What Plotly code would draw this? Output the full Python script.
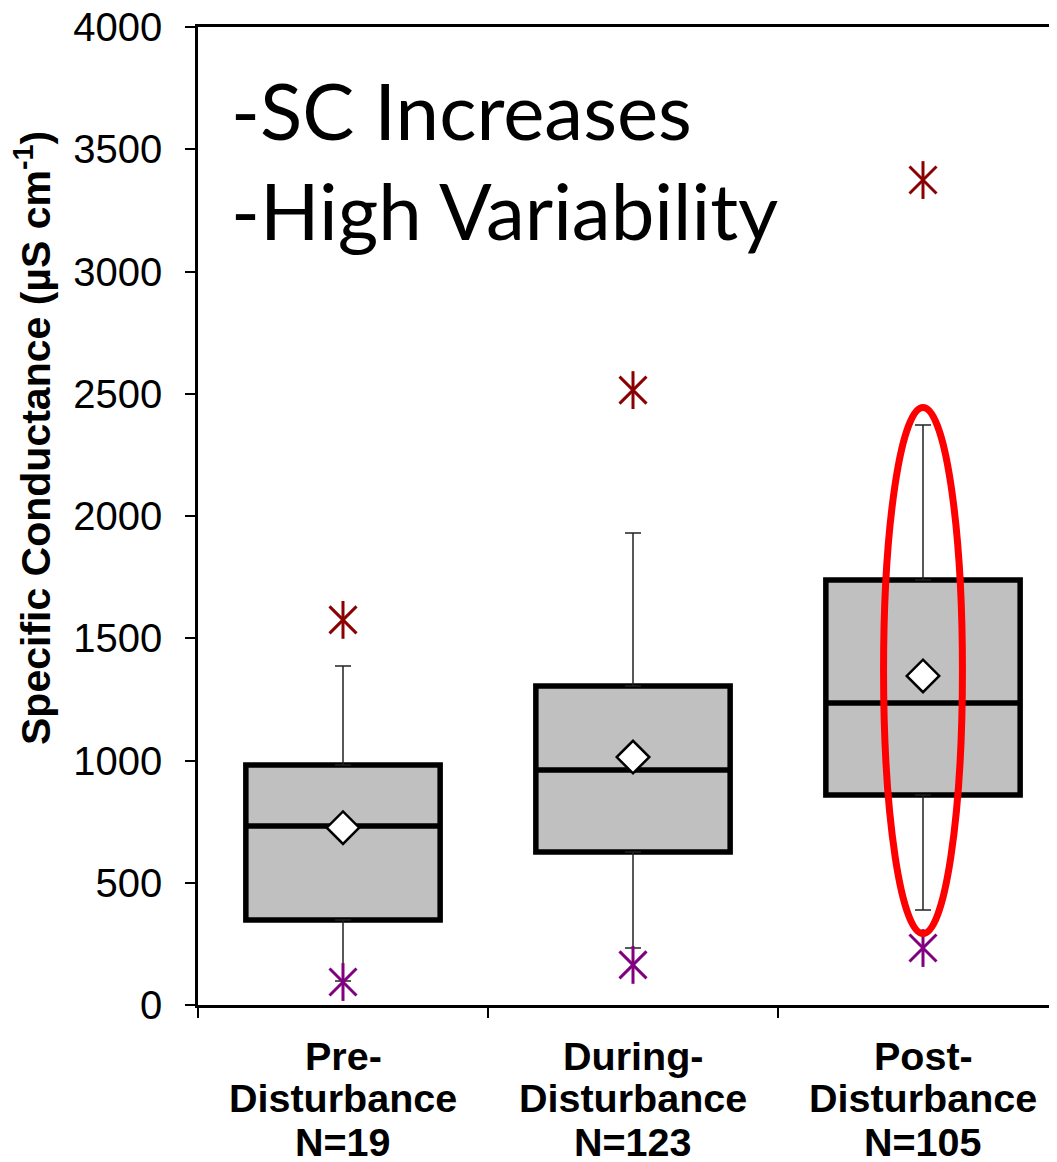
import plotly.graph_objects as go

categories = ["Pre-Disturbance", "During-Disturbance", "Post-Disturbance"]
label_line1 = ["Pre-", "During-", "Post-"]
label_line2 = ["Disturbance", "Disturbance", "Disturbance"]
label_line3 = ["N=19", "N=123", "N=105"]
q1 = [348, 626, 859]
median = [732, 961, 1235]
q3 = [982, 1305, 1738]
mean = [725, 1014, 1346]
upper_whisker = [1387, 1930, 2372]
lower_whisker = [98, 233, 389]
max_val = [1575, 2515, 3374]
min_val = [94, 164, 233]
y_ticks = [0, 500, 1000, 1500, 2000, 2500, 3000, 3500, 4000]
ellipse_x = [1.864, 2.136]
ellipse_y = [292, 2444]

FIG_W, FIG_H = 1049, 1154
L, R, T, B = 190, 1049, 19, 997
W, H = R - L, B - T


def px(xp):
    return (xp - L) / W


def py(yp):
    return (B - yp) / H


fig = go.Figure()

fig.add_trace(go.Box(
    x=categories, q1=q1, median=median, q3=q3,
    lowerfence=q1, upperfence=q3,
    width=0.67, fillcolor="#c0c0c0",
    line=dict(color="black", width=5.5),
    showlegend=False, hoverinfo="skip",
))

# whiskers
fig.add_trace(go.Scatter(
    x=categories, y=upper_whisker, mode="markers",
    marker=dict(color="rgba(0,0,0,0)", size=1),
    error_y=dict(type="data", symmetric=False, array=[0, 0, 0],
                 arrayminus=[u - q for u, q in zip(upper_whisker, q3)],
                 color="#222222", thickness=1.5, width=8),
    showlegend=False, hoverinfo="skip",
))
fig.add_trace(go.Scatter(
    x=categories, y=lower_whisker, mode="markers",
    marker=dict(color="rgba(0,0,0,0)", size=1),
    error_y=dict(type="data", symmetric=False, arrayminus=[0, 0, 0],
                 array=[q - l for q, l in zip(q1, lower_whisker)],
                 color="#222222", thickness=1.5, width=8),
    showlegend=False, hoverinfo="skip",
))

# mean diamonds
fig.add_trace(go.Scatter(
    x=categories, y=mean, mode="markers",
    marker=dict(symbol="diamond", size=25, color="white",
                line=dict(color="black", width=2.5)),
    showlegend=False, hoverinfo="skip",
))

# max / min asterisks
for vals, col in [(max_val, "#8b0000"), (min_val, "#800080")]:
    for sym in ["x-thin-open", "line-ns-open"]:
        fig.add_trace(go.Scatter(
            x=categories, y=vals, mode="markers",
            marker=dict(symbol=sym, size=27, color=col,
                        line=dict(color=col, width=3)),
            showlegend=False, hoverinfo="skip",
        ))

fig.add_shape(type="circle", xref="x", yref="y",
              x0=ellipse_x[0], x1=ellipse_x[1], y0=ellipse_y[0], y1=ellipse_y[1],
              line=dict(color="#ff0000", width=7), layer="above")

fig.add_annotation(text="-SC Increases", xref="paper", yref="paper",
                   x=px(221), y=py(102), xanchor="left", yanchor="middle",
                   showarrow=False, font=dict(family="Lato", size=78, color="black"))
fig.add_annotation(text="-High Variability", xref="paper", yref="paper",
                   x=px(221), y=py(202), xanchor="left", yanchor="middle",
                   showarrow=False, font=dict(family="Lato", size=78, color="black"))
fig.add_annotation(text="<b>Specific Conductance (µS cm<sup>-1</sup>)</b>",
                   xref="paper", yref="paper", x=px(25), y=py(430),
                   xanchor="center", yanchor="middle", textangle=-90,
                   showarrow=False,
                   font=dict(family="Liberation Sans, Arial", size=41, color="black"))

label_font = dict(family="Liberation Sans, Arial", size=39.5, color="black")
for lines, ycen in [(label_line1, 1048), (label_line2, 1090), (label_line3, 1134)]:
    for cat, txt in zip(categories, lines):
        fig.add_annotation(text="<b>" + txt + "</b>", xref="x", yref="paper",
                           x=cat, y=py(ycen), xanchor="center", yanchor="middle",
                           showarrow=False, font=label_font)

fig.update_layout(
    width=FIG_W, height=FIG_H,
    margin=dict(l=L, r=FIG_W - R, t=T, b=FIG_H - B),
    plot_bgcolor="white", paper_bgcolor="white",
    font=dict(family="Liberation Sans, Arial", color="black"),
    xaxis=dict(
        type="category", range=[-0.5, -0.5 + W / 290],
        tickson="boundaries", ticks="outside", ticklen=10, tickwidth=2,
        tickcolor="black", showline=True, linecolor="black", linewidth=2.5,
        mirror=True, showgrid=False, zeroline=False, showticklabels=False,
        automargin=False,
    ),
    yaxis=dict(
        range=[0, 4000], tickvals=y_ticks, ticks="outside", ticklen=10,
        tickwidth=2, tickcolor="black", showline=True, linecolor="black",
        linewidth=2.5, showgrid=False, zeroline=False,
        ticklabelstandoff=15, automargin=False, ticklabeloverflow="allow",
        tickfont=dict(family="Liberation Sans, Arial", size=40, color="black"),
    ),
)

fig.write_html("out.html")
